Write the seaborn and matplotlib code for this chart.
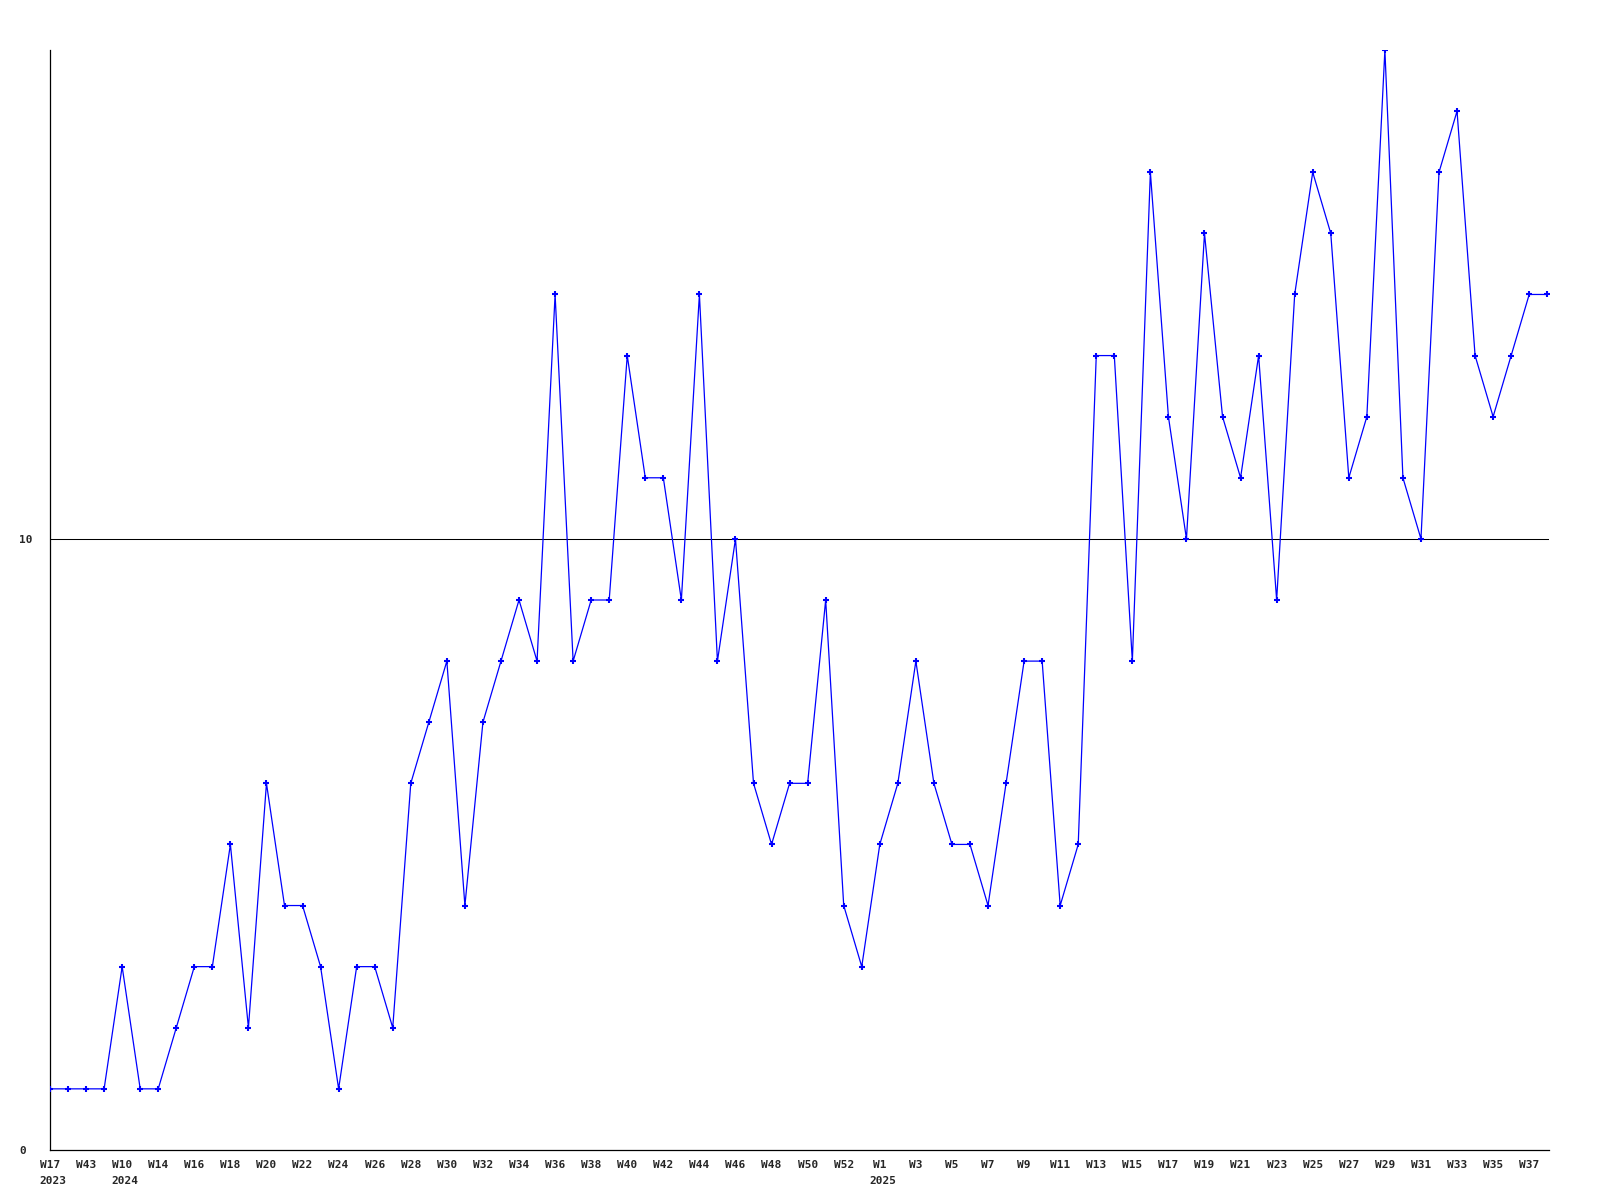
import matplotlib
matplotlib.use("Agg")
import matplotlib.pyplot as plt
import numpy as np
import pandas as pd
import seaborn as sns

# weekly counts, one value per week shown on the chart
counts = [1, 1, 1, 1, 3, 1, 1, 2, 3, 3,
          5, 2, 6, 4, 4, 3, 1, 3, 3, 2,
          6, 7, 8, 4, 7, 8, 9, 8, 14, 8,
          9, 9, 13, 11, 11, 9, 14, 8, 10, 6,
          5, 6, 6, 9, 4, 3, 5, 6, 8, 6,
          5, 5, 4, 6, 8, 8, 4, 5, 13, 13,
          8, 16, 12, 10, 15, 12, 11, 13, 9, 14,
          16, 15, 11, 12, 18, 11, 10, 16, 17, 13,
          12, 13, 14, 14]

# labels on every second week
week_labels = ["W17", "W43", "W10", "W14", "W16", "W18", "W20", "W22", "W24", "W26",
               "W28", "W30", "W32", "W34", "W36", "W38", "W40", "W42", "W44", "W46",
               "W48", "W50", "W52", "W1", "W3", "W5", "W7", "W9", "W11", "W13",
               "W15", "W17", "W19", "W21", "W23", "W25", "W27", "W29", "W31", "W33",
               "W35", "W37"]
# year shown under the first week label of each year (index into week_labels)
year_labels = {0: "2023", 2: "2024", 23: "2025"}

y_ticks = [0, 10]
reference_level = 10

sns.set_style("white")
plt.rcParams['font.family'] = ['DejaVu Sans Mono']

df = pd.DataFrame({"week": np.arange(len(counts)), "count": counts})

fig = plt.figure(figsize=(16, 12), dpi=100)
ax = fig.add_axes([0.03125, 0.0417, 0.9369, 0.9166])

ax.axhline(reference_level, color="black", lw=0.75, zorder=1)
sns.lineplot(data=df, x="week", y="count", ax=ax, color="#0000ff", lw=0.9,
             marker="+", markersize=5, markeredgewidth=1.5, markeredgecolor="#0000ff",
             zorder=3)

ax.set_xlim(0, len(counts) - 1 + 0.1)
ax.set_ylim(0, 18)

tick_pos = np.arange(0, len(counts), 2)
ax.set_xticks(tick_pos)
ax.set_xticklabels(week_labels, fontsize=8, fontweight="bold")
ax.set_yticks(y_ticks)
ax.set_yticklabels([str(v) for v in y_ticks], fontsize=8, fontweight="bold")
ax.tick_params(axis="x", length=0, pad=7)
ax.tick_params(axis="y", length=0, pad=22)
for lab in ax.get_yticklabels():
    lab.set_horizontalalignment("left")

for k, year in year_labels.items():
    ax.annotate(year, xy=(tick_pos[k], 0), xycoords=("data", "axes fraction"),
                xytext=(-7.5, -19), textcoords="offset points",
                ha="left", va="top", fontsize=8, fontweight="bold")

ax.set_xlabel("")
ax.set_ylabel("")
for side in ["top", "right"]:
    ax.spines[side].set_visible(False)
for side in ["left", "bottom"]:
    ax.spines[side].set_color("black")
    ax.spines[side].set_linewidth(0.9)

fig.savefig("out.png", dpi=100)
